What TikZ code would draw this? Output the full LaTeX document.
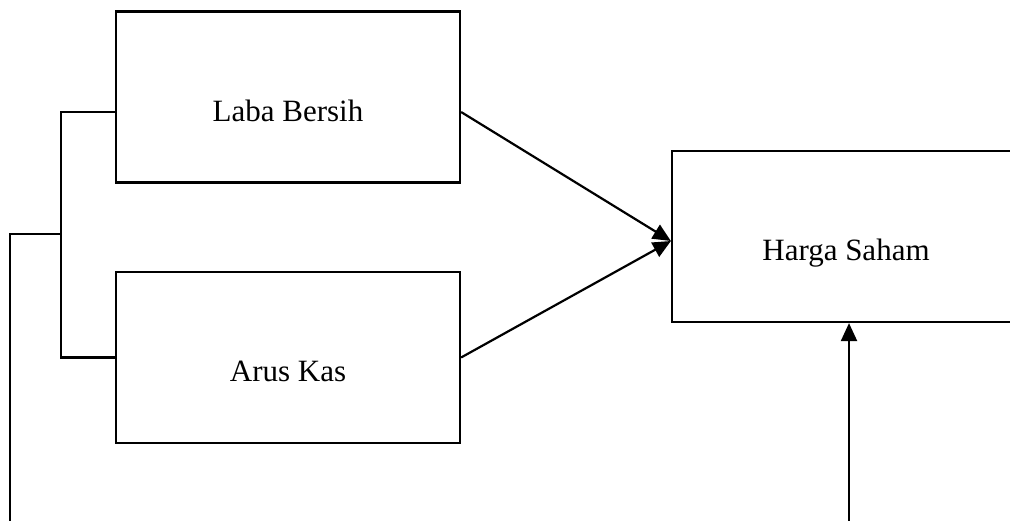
\documentclass[tikz,border=0pt]{standalone}
\usepackage{fontspec}
\setmainfont{Liberation Serif}
\usetikzlibrary{arrows.meta}

\begin{document}
\begin{tikzpicture}[
		x=0.5pt, y=-0.5pt,
		line width=1.1pt,
		arrow/.style={-{Triangle[length=9pt,width=8pt]}},
		block/.style={draw, minimum width=172pt, minimum height=85.5pt,
			text height=24pt, text depth=0pt, font=\fontsize{15.5}{18}\selectfont},
	]
		\clip (0,0) rectangle (1010,520);
		\node (laba) [block] at (288,97) {Laba Bersih};
		\node (arus) [block] at (288,357.5) {Arus Kas};
		\node (harga) [block, minimum width=174pt] at (846,236.5) {Harga Saham};
		
		\coordinate (split) at (61,234);
		\coordinate (kiri) at (10,530);
		\coordinate (kanan) at (849,530);
		
		\draw ([yshift=-7.5pt]laba.west) -| (split) |- (arus.west);
		\draw (kiri) |- (split);
		\draw[arrow] ([yshift=-7.5pt]laba.east) -- ([yshift=-2.25pt]harga.west);
		\draw[arrow] (arus.east) -- ([yshift=-2.25pt]harga.west);
		\draw[arrow] (kanan) -- (kanan |- harga.south);
	\end{tikzpicture}
\end{document}
